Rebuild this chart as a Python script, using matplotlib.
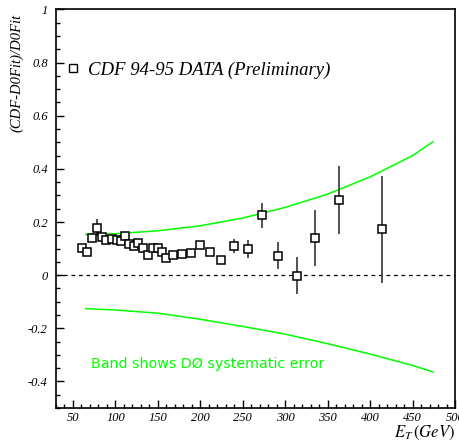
"""
CDF vs D0 fit comparison: (CDF - D0Fit)/D0Fit against E_T.
"""

import numpy as np
import matplotlib
matplotlib.use("Agg")
import matplotlib.pyplot as plt
from matplotlib.ticker import MultipleLocator, FuncFormatter
from matplotlib.lines import Line2D

plt.rcParams["mathtext.fontset"] = "stix"

# ── data ─────────────────────────────────────
et = [61, 67, 72, 78, 84, 89, 96, 102, 106, 111.5, 116, 122, 127, 133, 138,
      144, 150, 155, 160, 168, 178, 189, 200, 211, 224.5, 240, 256, 273, 292,
      313.5, 335, 363.5, 414]
ratio = [0.104, 0.088, 0.141, 0.178, 0.144, 0.132, 0.136, 0.132, 0.129, 0.148,
         0.117, 0.109, 0.122, 0.103, 0.075, 0.103, 0.103, 0.088, 0.063, 0.075,
         0.078, 0.084, 0.113, 0.088, 0.057, 0.110, 0.097, 0.225, 0.073,
         -0.002, 0.141, 0.283, 0.172]
ratio_err = [0.012, 0.012, 0.012, 0.032, 0.012, 0.012, 0.012, 0.012, 0.012,
             0.012, 0.012, 0.012, 0.012, 0.012, 0.012, 0.012, 0.012, 0.012,
             0.012, 0.012, 0.012, 0.012, 0.015, 0.015, 0.015, 0.025, 0.034,
             0.048, 0.050, 0.070, 0.105, 0.127, 0.200]

# D0 systematic band edges
band_et = [65, 100, 150, 200, 250, 300, 350, 400, 450, 474]
band_hi = [0.153, 0.156, 0.167, 0.186, 0.215, 0.255, 0.305, 0.370, 0.450, 0.502]
band_lo = [-0.126, -0.131, -0.143, -0.166, -0.193, -0.222, -0.258, -0.297,
           -0.340, -0.364]

serif = ["Liberation Serif", "DejaVu Serif"]

fig = plt.figure(figsize=(4.59, 4.43), dpi=100)
ax = fig.add_axes([56 / 459, 35 / 443, 399 / 459, 398.5 / 443])

ax.plot(band_et, band_hi, color="#00ff00", lw=1.1)
ax.plot(band_et, band_lo, color="#00ff00", lw=1.1)
ax.axhline(0, color="black", lw=0.9, ls=(0, (3, 3)))

ax.errorbar(et, ratio, yerr=ratio_err, fmt="none", ecolor="#444444",
            elinewidth=1.3, capsize=0, zorder=3)
ax.plot(et, ratio, ls="none", marker="s", ms=5.4, mfc="white",
        mec="black", mew=1.1, zorder=4)

ax.set_xlim(30, 500)
ax.set_ylim(-0.5, 1.0)

ax.xaxis.set_major_locator(MultipleLocator(50))
ax.xaxis.set_minor_locator(MultipleLocator(10))
ax.yaxis.set_major_locator(MultipleLocator(0.2))
ax.yaxis.set_minor_locator(MultipleLocator(0.05))
ax.yaxis.set_major_formatter(FuncFormatter(lambda v, p: f"{v:.1f}".rstrip("0").rstrip(".")
                                           if abs(v) > 1e-9 else "0"))
ax.tick_params(which="both", direction="in", top=False, right=False)
ax.tick_params(which="major", length=5.5, width=1.0)
ax.tick_params(which="minor", length=3, width=1.0)
ax.tick_params(axis="y", pad=6)
ax.tick_params(axis="x", pad=3)
for lab in ax.get_xticklabels() + ax.get_yticklabels():
    lab.set_family(serif)
    lab.set_style("italic")
    lab.set_fontsize(9)
for sp in ax.spines.values():
    sp.set_linewidth(1.2)

# legend
handle = Line2D([], [], ls="none", marker="s", ms=5.4, mfc="white",
                mec="black", mew=1.0)
ax.legend([handle], ["CDF 94-95 DATA (Preliminary)"], loc="center left",
          bbox_to_anchor=(0.024, 0.848), frameon=False, handlelength=0.8,
          handletextpad=0.4, borderaxespad=0, borderpad=0,
          prop={"family": serif, "style": "italic", "size": 13.5})

ax.text(0.088, 0.110, "Band shows DØ systematic error", transform=ax.transAxes,
        color="#00ff00", fontsize=10.3, family="DejaVu Sans", va="center")

fig.text(17 / 459, 1 - 73 / 443, "(CDF-D0Fit)/D0Fit", rotation=90,
         ha="center", va="center", family=serif, style="italic", fontsize=10.5)
fig.text(455 / 459, 1 - 433 / 443, r"$E_T\,(GeV)$", ha="right", va="center",
         fontsize=12)

fig.savefig("out.png", dpi=100)
